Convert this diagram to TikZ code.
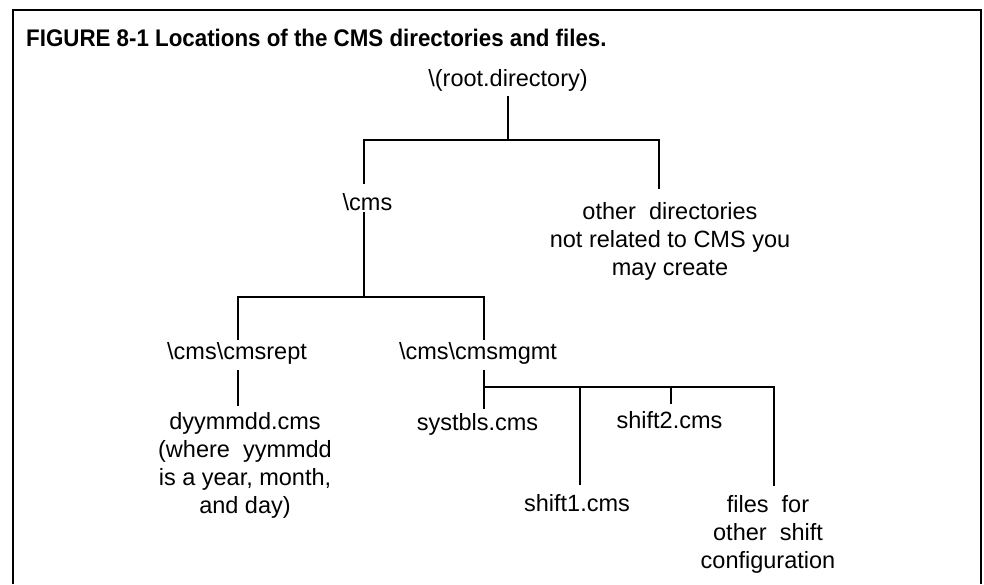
\documentclass[tikz,border=0pt]{standalone}
\usepackage{fontspec}
\setmainfont{Liberation Sans}
\newfontfamily\captionfont[FakeStretch=0.93]{Liberation Sans}
\begin{document}
\begin{tikzpicture}[x=1pt,y=-1pt,
  lbl/.style={font=\fontsize{23.5}{28}\selectfont, inner sep=0pt, align=center},
  link/.style={line width=2.7pt, line cap=rect},
  thinlink/.style={line width=2pt, line cap=rect},
  frameline/.style={line width=2pt}]
\useasboundingbox (0,0) rectangle (984,584);

% frame, open at the bottom
\draw[frameline] (13,584) -- (13,10) -- (981,10) -- (981,584);

% caption
\node[anchor=base west, inner sep=0pt, font=\captionfont\bfseries\fontsize{24}{28}\selectfont] (title) at (26,46.5)
  {FIGURE 8-1 Locations of the CMS directories and files.};

% directory and file labels
\node[lbl, anchor=base] (root)    at (508,86)    {\textbackslash(root.directory)};
\node[lbl, anchor=base] (cms)     at (367.5,210) {\textbackslash cms};
\node[lbl, anchor=north] (other)  at (670,202)   {other\ \ directories\\not related to CMS you\\may create};
\node[lbl, anchor=base] (rept)    at (237,359) {\textbackslash cms\textbackslash cmsrept};
\node[lbl, anchor=base] (mgmt)    at (478,359)   {\textbackslash cms\textbackslash cmsmgmt};
\node[lbl, anchor=north] (daily)  at (245,412)   {dyymmdd.cms\\(where\ \ yymmdd\\is a year, month,\\and day)};
\node[lbl, anchor=base] (systbls) at (477.5,430) {systbls.cms};
\node[lbl, anchor=base] (shifttwo) at (669.5,428) {shift2.cms};
\node[lbl, anchor=base] (shiftone) at (577,511)  {shift1.cms};
\node[lbl, anchor=north] (otherfiles) at (768,495) {files\ \ for\\other\ \ shift\\configuration};

% junction points of the tree
\coordinate (j-root) at (508,140);
\coordinate (j-cms)  at (364,297);
\coordinate (j-mgmt) at (484,387);

% stem ends next to the labels
\coordinate (root-s)  at (508,97);
\coordinate (cms-n)   at (364,183);
\coordinate (cms-s)   at (364,213);
\coordinate (other-n) at (659,188);
\coordinate (rept-n)  at (238,339);
\coordinate (rept-s)  at (238,371);
\coordinate (daily-n) at (238,405);
\coordinate (mgmt-n)  at (484,339);
\coordinate (mgmt-s)  at (484,371);
\coordinate (systbls-n) at (484,408);
\coordinate (shiftone-n) at (580,484);
\coordinate (shifttwo-n) at (671,403);
\coordinate (otherfiles-n) at (774,485);

% connectors
\draw[thinlink] (root-s) -- (j-root);
\draw[link] (cms-n) |- (j-root) -| (other-n);
\draw[link] (cms-s) -- (j-cms);
\draw[link] (rept-n) |- (j-cms) -| (mgmt-n);
\draw[link] (rept-s) -- (daily-n);
\draw[link] (mgmt-s) -- (systbls-n);
\draw[link] (j-mgmt) -| (otherfiles-n);
\draw[link] (j-mgmt -| shiftone-n) -- (shiftone-n);
\draw[link] (j-mgmt -| shifttwo-n) -- (shifttwo-n);
\end{tikzpicture}
\end{document}
